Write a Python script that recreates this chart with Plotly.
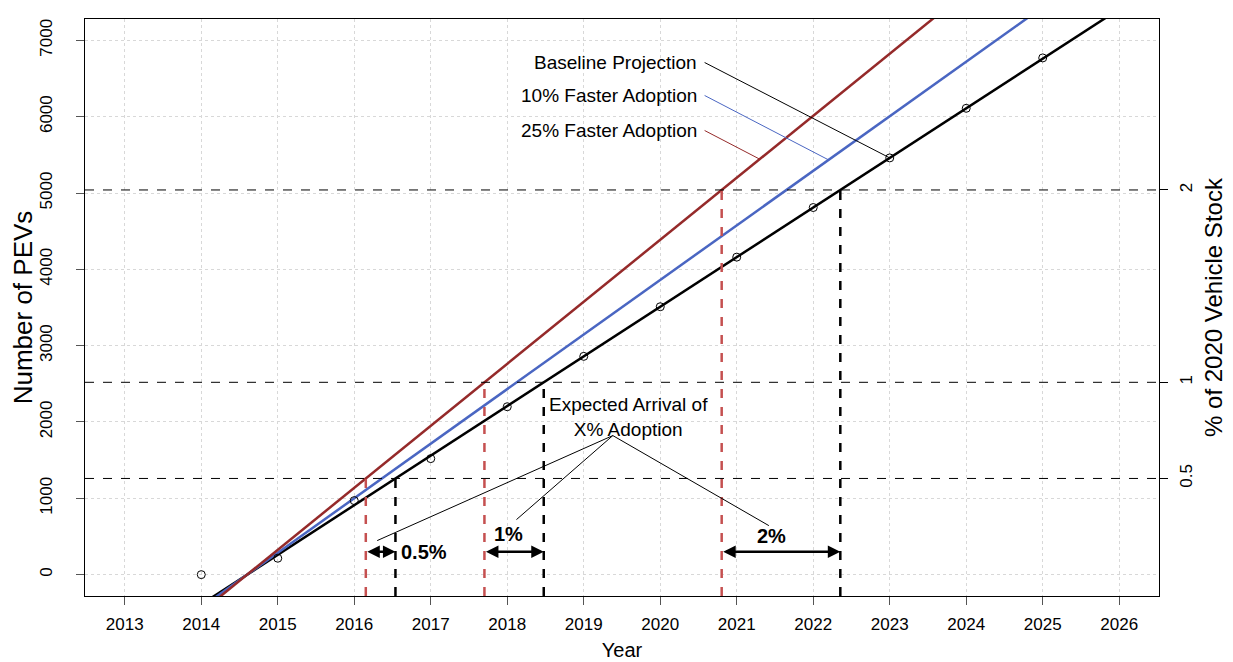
import plotly.graph_objects as go

# observed / projected PEV counts
years = [2014, 2015, 2016, 2017, 2018, 2019, 2020, 2021, 2022, 2023, 2024, 2025]
pevs = [0, 215, 970, 1520, 2200, 2860, 3510, 4160, 4810, 5460, 6110, 6770]

# projection parameters
x_start = 2014.6
base_slope = 650
scenarios = ["Baseline Projection", "10% Faster Adoption", "25% Faster Adoption"]
speedups = [1.0, 1.1, 1.25]
colors = ["black", "#4a66c2", "#952a2a"]

# adoption thresholds (PEVs) and their % of 2020 stock labels
thresholds = [1260, 2520, 5040]
pct_labels = ["0.5", "1", "2"]

YMIN, YMAX = -280, 7280
XMIN, XMAX = 2012.48, 2026.52
FONT = "Liberation Sans, Arial, sans-serif"

fig = go.Figure()

def line_y(x, mult):
    return base_slope * mult * (x - x_start)

for name, mult, col in zip(scenarios, speedups, colors):
    xs = [2014.0, 2026.5]
    fig.add_trace(go.Scatter(x=xs, y=[line_y(x, mult) for x in xs], mode="lines",
                             line=dict(color=col, width=2.5), name=name, showlegend=False))

fig.add_trace(go.Scatter(x=years, y=pevs, mode="markers", showlegend=False,
                         marker=dict(symbol="circle-open", size=8, color="black",
                                     line=dict(width=1, color="black"))))

# overlay trace to enable the right axis
fig.add_trace(go.Scatter(x=[XMIN], y=[YMIN], yaxis="y2", mode="markers",
                         marker=dict(opacity=0), showlegend=False, hoverinfo="skip"))

shapes = []
annotations = []
for th in thresholds:
    shapes.append(dict(type="line", xref="x domain", x0=0, x1=1, yref="y", y0=th, y1=th,
                       line=dict(color="black", width=1, dash="dash")))
    x_base = x_start + th / base_slope
    x_fast = x_start + th / (base_slope * speedups[2])
    shapes.append(dict(type="line", xref="x", x0=x_fast, x1=x_fast, yref="y", y0=YMIN, y1=th,
                       line=dict(color="#c55050", width=2.5, dash="dash")))
    shapes.append(dict(type="line", xref="x", x0=x_base, x1=x_base, yref="y", y0=YMIN, y1=th,
                       line=dict(color="black", width=2.5, dash="dash")))
    annotations.append(dict(x=x_base, y=300, ax=x_fast, ay=300, xref="x", yref="y",
                            axref="x", ayref="y", text="", showarrow=True,
                            arrowside="end+start", arrowhead=2, arrowsize=1,
                            arrowwidth=2.5, arrowcolor="black"))

# percent labels for the arrows
annotations.append(dict(x=2016.58, y=300, xref="x", yref="y", text="<b>0.5%</b>",
                        showarrow=False, xanchor="left", font=dict(size=20, family=FONT)))
annotations.append(dict(x=2018.02, y=530, xref="x", yref="y", text="<b>1%</b>",
                        showarrow=False, font=dict(size=20, family=FONT)))
annotations.append(dict(x=2021.46, y=510, xref="x", yref="y", text="<b>2%</b>",
                        showarrow=False, font=dict(size=20, family=FONT)))

# scenario labels with leader lines
label_x = 2020.58
label_y = [6710, 6278, 5819]
target_x = [2023.0, 2022.2, 2021.3]
for name, ly, tx, mult, col in zip(scenarios, label_y, target_x, speedups, colors):
    annotations.append(dict(x=label_x - 0.08, y=ly, xref="x", yref="y", text=name,
                            showarrow=False, xanchor="right",
                            font=dict(size=19, family=FONT, color="black")))
    shapes.append(dict(type="line", xref="x", yref="y", x0=label_x, y0=ly,
                       x1=tx, y1=line_y(tx, mult), line=dict(color=col, width=1)))

# expected arrival note
annotations.append(dict(x=2019.58, y=2070, xref="x", yref="y",
                        text="Expected Arrival of<br>X% Adoption", showarrow=False,
                        font=dict(size=19, family=FONT, color="black")))
apex = (2019.38, 1822)
for tx, ty in [(2016.30, 446), (2018.12, 721), (2021.42, 642)]:
    shapes.append(dict(type="line", xref="x", yref="y", x0=apex[0], y0=apex[1],
                       x1=tx, y1=ty, line=dict(color="black", width=1)))

fig.update_layout(
    width=1233, height=662,
    margin=dict(l=77, r=82, t=11, b=74),
    plot_bgcolor="white", paper_bgcolor="white",
    font=dict(family=FONT, size=17, color="black"),
    shapes=shapes, annotations=annotations,
    xaxis=dict(range=[XMIN, XMAX], tickvals=list(range(2013, 2027)), automargin=False,
               ticks="outside", ticklen=8, tickcolor="#555", showline=True,
               linecolor="black", mirror=True, showgrid=True, gridcolor="#d8d8d8",
               griddash="dot", zeroline=False, tickfont=dict(size=17), ticklabelstandoff=5,
               title=dict(text="Year", font=dict(size=20), standoff=9)),
    yaxis=dict(range=[YMIN, YMAX], tickvals=list(range(0, 8000, 1000)), automargin=False,
               tickangle=-90, ticks="outside", ticklen=8, tickcolor="#555",
               showline=True, linecolor="black", mirror=True, showgrid=True,
               gridcolor="#d8d8d8", griddash="dot", zeroline=False,
               tickfont=dict(size=17), ticklabelstandoff=17,
               title=dict(text="Number of PEVs", font=dict(size=26), standoff=12)),
    yaxis2=dict(range=[YMIN, YMAX], overlaying="y", side="right", automargin=False,
                tickvals=thresholds, ticktext=pct_labels, tickangle=-90,
                ticks="outside", ticklen=8, tickcolor="black", showgrid=False,
                zeroline=False, tickfont=dict(size=17), ticklabelstandoff=4,
                title=dict(text="% of 2020 Vehicle Stock", font=dict(size=24), standoff=9)),
)

fig.write_html("out.html")
